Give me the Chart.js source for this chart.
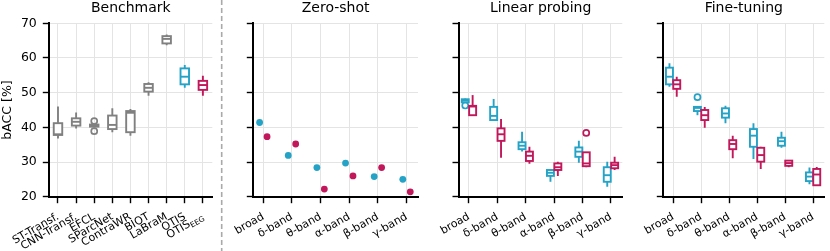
<!DOCTYPE html>
<html>
<head>
<meta charset="utf-8">
<script src="https://cdn.jsdelivr.net/npm/chart.js@4.4.1/dist/chart.umd.min.js"></script>
<style>
  html, body { margin: 0; padding: 0; background: #fff; }
  #wrap { position: relative; width: 830px; height: 251px; overflow: hidden; }
  .panel { position: absolute; top: 0; height: 251px; }
  #sep { position: absolute; left: 0; top: 0; pointer-events: none; }
</style>
</head>
<body>
<div id="wrap">
  <div class="panel" style="left:0;width:218px"><canvas id="bench"></canvas></div>
  <div class="panel" style="left:222px;width:200px"><canvas id="zero"></canvas></div>
  <div class="panel" style="left:425px;width:203px"><canvas id="linear"></canvas></div>
  <div class="panel" style="left:628px;width:202px"><canvas id="fine"></canvas></div>
  <svg id="sep" width="830" height="251"><line x1="221.7" y1="0" x2="221.7" y2="251" stroke="#a9a9a9" stroke-width="1.6" stroke-dasharray="5,3"/></svg>
</div>
<script>
// ---- data ----
const BENCH_MODELS = ['ST-Transf.', 'CNN-Transf.', 'EFCL', 'SParcNet', 'ContraWR', 'BIOT', 'LaBraM', 'OTIS', 'OTIS'];
// [whisker low, q1, median, q3, whisker high]
const BENCH_STATS = [
  [36.8, 37.8, 38.0, 41.2, 46.0],
  [39.7, 40.5, 41.6, 42.6, 44.3],
  [40.0, 40.2, 40.5, 40.8, 41.0],
  [38.6, 39.5, 40.7, 43.4, 45.5],
  [37.6, 38.6, 44.2, 44.7, 45.3],
  [49.1, 50.3, 51.4, 52.5, 53.0],
  [63.7, 64.2, 65.5, 66.3, 66.8],
  [51.4, 52.4, 54.6, 57.0, 58.0],
  [49.1, 50.8, 52.2, 53.4, 54.9]
];
const BENCH_FLIERS = [[], [], [41.8, 38.9], [], [], [], [], [], []];

const BANDS = ['broad', 'δ-band', 'θ-band', 'α-band', 'β-band', 'γ-band'];

const ZS_OTIS = [41.4, 31.9, 28.4, 29.7, 25.8, 25.0];
const ZS_EEG = [37.3, 35.2, 22.2, 26.0, 28.4, 21.4];

const LP_OTIS = [
  [47.0, 47.2, 47.7, 48.1, 48.3],
  [41.8, 42.1, 43.3, 45.9, 48.2],
  [33.0, 33.7, 34.7, 35.7, 38.7],
  [24.3, 26.0, 26.9, 27.7, 27.7],
  [29.8, 31.5, 33.0, 34.2, 36.1],
  [22.9, 24.3, 26.2, 28.5, 30.1]
];
const LP_OTIS_FLIERS = [[46.3], [], [], [], [], []];
const LP_EEG = [
  [43.5, 43.5, 46.0, 46.2, 49.3],
  [31.2, 36.1, 38.0, 39.7, 42.4],
  [29.5, 30.3, 31.8, 33.0, 34.4],
  [26.0, 27.7, 28.5, 29.6, 30.1],
  [28.5, 28.8, 29.6, 32.8, 32.8],
  [27.7, 28.2, 29.1, 29.8, 31.5]
];
const LP_EEG_FLIERS = [[], [], [], [], [38.4], []];

const FT_OTIS = [
  [51.7, 52.4, 54.6, 57.2, 58.5],
  [43.5, 44.7, 45.6, 45.9, 45.9],
  [41.2, 42.8, 44.0, 45.5, 46.2],
  [30.9, 34.4, 37.6, 39.5, 41.2],
  [34.1, 34.7, 36.0, 37.0, 38.7],
  [23.6, 24.5, 25.8, 27.0, 28.4]
];
const FT_OTIS_FLIERS = [[], [48.7], [], [], [], []];
const FT_EEG = [
  [48.8, 51.1, 52.4, 53.6, 54.6],
  [39.9, 42.1, 43.5, 45.0, 45.9],
  [31.1, 33.7, 35.2, 36.3, 37.6],
  [28.0, 30.1, 32.0, 34.1, 34.4],
  [28.5, 28.9, 29.7, 30.4, 30.4],
  [23.2, 23.3, 26.4, 28.0, 28.6]
];
const FT_EEG_FLIERS = [[], [], [], [], [], []];

const Y_TICKS = [20, 30, 40, 50, 60, 70];

// ---- style ----
const GRAY = '#808080';
const CYAN = '#25a3c6';
const MAGENTA = '#c2185b';
const GRID = '#e4e4e4';
const OFFSET = 0.13;

Chart.defaults.font.family = "'DejaVu Sans', sans-serif";
Chart.defaults.color = '#000';

const boxPlugin = {
  id: 'boxes',
  afterDatasetsDraw(chart) {
    const { ctx, scales: { x, y } } = chart;
    chart.data.datasets.forEach((ds) => {
      if (!ds.boxes) {
        return;
      }
      ctx.save();
      ctx.lineWidth = 1.9;
      ds.boxes.forEach((b, i) => {
        const [lo, q1, med, q3, hi] = b;
        const cx = x.getPixelForValue(ds.data[i].x);
        const half = ds.boxPx / 2;
        const color = Array.isArray(ds.boxColor) ? ds.boxColor[i] : ds.boxColor;
        const yq1 = y.getPixelForValue(q1);
        const yq3 = y.getPixelForValue(q3);
        const ym = y.getPixelForValue(med);
        ctx.strokeStyle = color;
        ctx.beginPath();
        ctx.moveTo(cx, y.getPixelForValue(hi));
        ctx.lineTo(cx, yq3);
        ctx.moveTo(cx, yq1);
        ctx.lineTo(cx, y.getPixelForValue(lo));
        ctx.stroke();
        ctx.fillStyle = '#fff';
        ctx.fillRect(cx - half, yq3, 2 * half, yq1 - yq3);
        ctx.strokeRect(cx - half, yq3, 2 * half, yq1 - yq3);
        ctx.beginPath();
        ctx.moveTo(cx - half, ym);
        ctx.lineTo(cx + half, ym);
        ctx.stroke();
      });
      ctx.restore();
    });
  }
};

// subscript label for the last benchmark tick
const subLabelPlugin = {
  id: 'subLabel',
  afterDraw(chart, args, opts) {
    if (!opts.index && opts.index !== 0) {
      return;
    }
    const scale = chart.scales.x;
    const item = scale.getLabelItems()[opts.index];
    if (!item) {
      return;
    }
    const { ctx } = chart;
    const o = item.options;
    ctx.save();
    ctx.translate(o.translation[0], o.translation[1]);
    ctx.rotate(o.rotation);
    ctx.textBaseline = o.textBaseline;
    ctx.textAlign = 'right';
    ctx.fillStyle = '#000';
    ctx.font = `${opts.subSize}px 'DejaVu Sans'`;
    const subW = ctx.measureText(opts.sub).width;
    ctx.fillText(opts.sub, 0, item.textOffset + opts.subSize * 0.4);
    ctx.font = item.font.string;
    ctx.fillText(opts.main, -subW, item.textOffset);
    ctx.restore();
  }
};

function boxDataset(stats, xs, color, boxPx) {
  return {
    type: 'scatter',
    data: stats.map((s, i) => ({ x: xs[i], y: s[2] })),
    boxes: stats,
    boxColor: color,
    boxPx,
    pointRadius: 0
  };
}

function flierDataset(fliers, xs, color) {
  const pts = [];
  fliers.forEach((list, i) => list.forEach((v) => pts.push({ x: xs[i], y: v })));
  return {
    type: 'scatter',
    data: pts,
    pointRadius: 3,
    borderWidth: 1.7,
    borderColor: color,
    backgroundColor: 'rgba(255,255,255,0)'
  };
}

function panelOptions(p) {
  return {
    animation: false,
    responsive: true,
    maintainAspectRatio: false,
    layout: { padding: { left: 0, right: p.padRight, top: 0, bottom: 0 } },
    plugins: {
      legend: { display: false },
      tooltip: { enabled: false },
      title: {
        display: true,
        text: p.title,
        fullSize: false,
        color: '#000',
        font: { size: 14, weight: 'normal' },
        padding: { top: 0, bottom: 6.5 }
      },
      subLabel: p.subLabel || {}
    },
    scales: {
      x: {
        type: 'linear',
        min: p.xmin,
        max: p.xmax,
        afterBuildTicks: (s) => { s.ticks = p.labels.map((_, i) => ({ value: i })); },
        afterFit: (s) => { s.height = 54.3; },
        ticks: {
          callback: (v) => p.labels[v],
          minRotation: 30,
          maxRotation: 30,
          autoSkip: false,
          color: p.tickColor || '#000',
          font: { size: 11 },
          padding: 7
        },
        grid: { color: GRID, lineWidth: 1, tickColor: '#000', tickLength: 6.5, tickWidth: 1.4 },
        border: { color: '#000', width: 2 }
      },
      y: {
        min: 20,
        max: 70,
        afterBuildTicks: (s) => { s.ticks = Y_TICKS.map((v) => ({ value: v })); },
        afterFit: (s) => { s.width = p.yWidth; },
        ticks: { display: p.yLabels, color: '#000', font: { size: 12.5 }, padding: 6 },
        title: {
          display: p.yLabels,
          text: 'bACC [%]',
          color: '#000',
          font: { size: 12.5 },
          padding: { top: 0, bottom: 0 }
        },
        grid: { color: GRID, lineWidth: 1, tickColor: '#000', tickLength: 6.5, tickWidth: 1.4 },
        border: { color: '#000', width: 2 }
      }
    }
  };
}

// ---- benchmark panel ----
const benchX = BENCH_MODELS.map((_, i) => i);
const benchColors = BENCH_MODELS.map((_, i) => (i === 7 ? CYAN : i === 8 ? MAGENTA : GRAY));
const benchFlierSets = benchColors.map((c, i) => flierDataset(BENCH_FLIERS.map((f, j) => (j === i ? f : [])), benchX, c));

new Chart(document.getElementById('bench'), {
  type: 'scatter',
  data: {
    datasets: [boxDataset(BENCH_STATS, benchX, benchColors, 8.5), ...benchFlierSets]
  },
  options: panelOptions({
    title: 'Benchmark',
    labels: BENCH_MODELS,
    xmin: -0.48,
    xmax: 8.52,
    yWidth: 49.3,
    padRight: 3,
    yLabels: true,
    tickColor: (c) => (c.index === 8 ? 'rgba(0,0,0,0)' : '#000'),
    subLabel: { index: 8, main: 'OTIS', sub: 'EEG', subSize: 7.5 }
  }),
  plugins: [boxPlugin, subLabelPlugin]
});

// ---- band panels ----
const xsOtis = BANDS.map((_, i) => i - OFFSET);
const xsEeg = BANDS.map((_, i) => i + OFFSET);

function bandPanel(id, title, yWidth, padRight, datasets) {
  new Chart(document.getElementById(id), {
    type: 'scatter',
    data: { datasets },
    options: panelOptions({
      title,
      labels: BANDS,
      xmin: -0.35,
      xmax: 5.4,
      yWidth,
      padRight,
      yLabels: false
    }),
    plugins: [boxPlugin]
  });
}

bandPanel('zero', 'Zero-shot', 31.3, 2, [
  { data: ZS_OTIS.map((v, i) => ({ x: xsOtis[i], y: v })), pointRadius: 3.4, backgroundColor: CYAN, borderColor: CYAN, borderWidth: 0 },
  { data: ZS_EEG.map((v, i) => ({ x: xsEeg[i], y: v })), pointRadius: 3.4, backgroundColor: MAGENTA, borderColor: MAGENTA, borderWidth: 0 }
]);

bandPanel('linear', 'Linear probing', 34, 3, [
  boxDataset(LP_OTIS, xsOtis, CYAN, 7),
  boxDataset(LP_EEG, xsEeg, MAGENTA, 7),
  flierDataset(LP_OTIS_FLIERS, xsOtis, CYAN),
  flierDataset(LP_EEG_FLIERS, xsEeg, MAGENTA)
]);

bandPanel('fine', 'Fine-tuning', 35.3, 0, [
  boxDataset(FT_OTIS, xsOtis, CYAN, 7),
  boxDataset(FT_EEG, xsEeg, MAGENTA, 7),
  flierDataset(FT_OTIS_FLIERS, xsOtis, CYAN),
  flierDataset(FT_EEG_FLIERS, xsEeg, MAGENTA)
]);
</script>
</body>
</html>
